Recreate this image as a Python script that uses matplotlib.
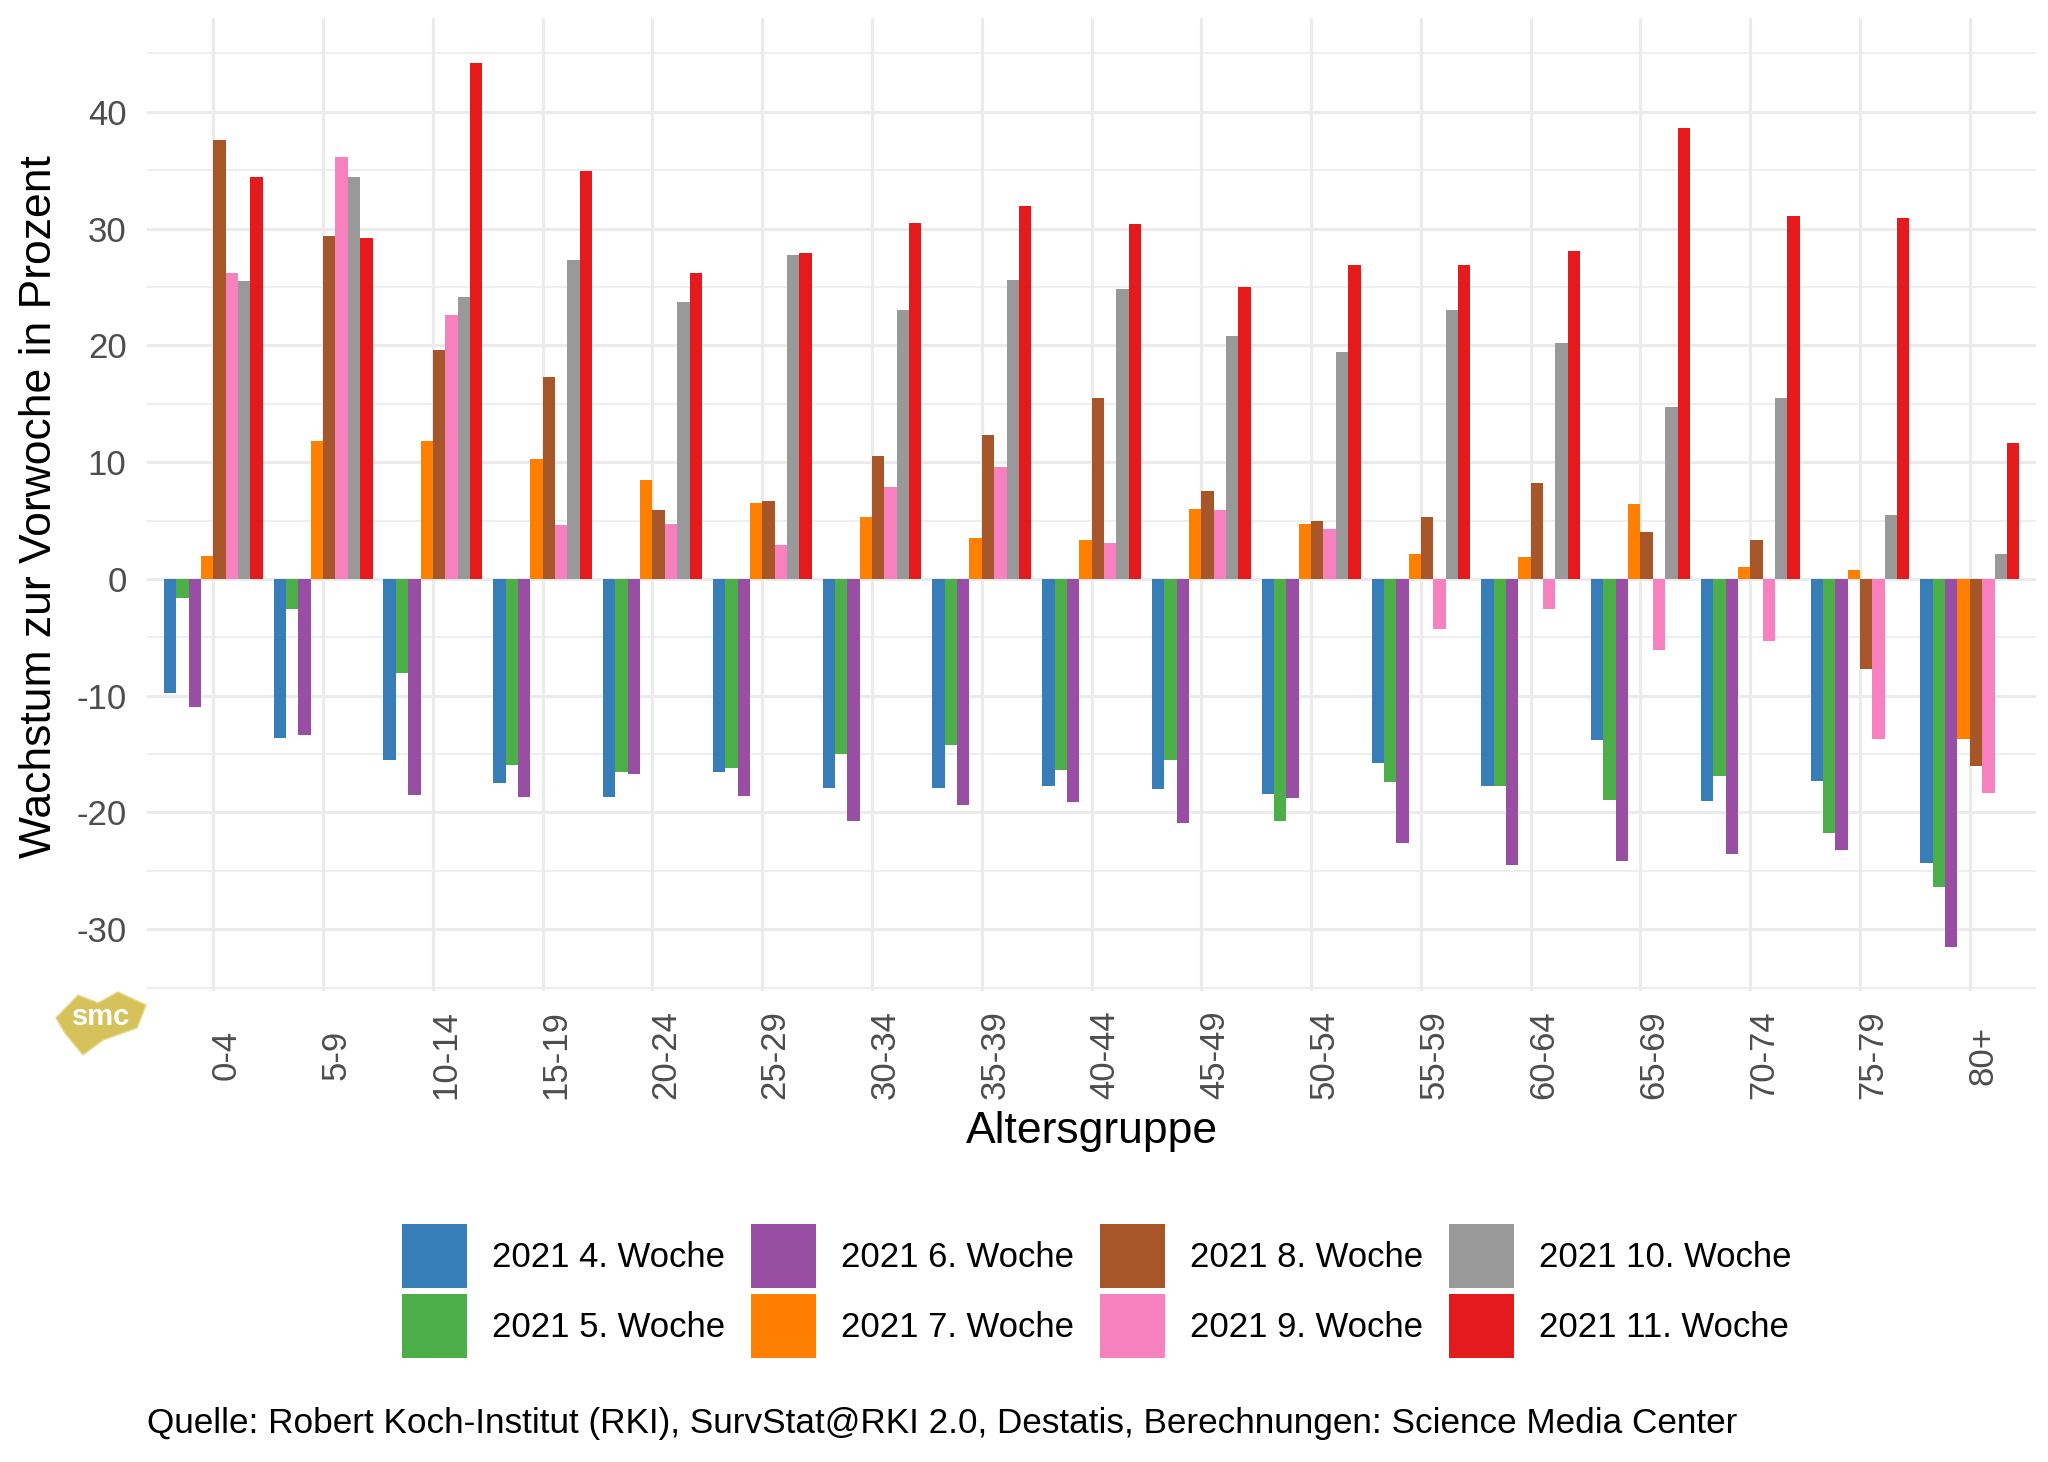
import numpy as np
import matplotlib
matplotlib.use('Agg')
import matplotlib.pyplot as plt
from matplotlib.patches import Polygon
from matplotlib.ticker import MultipleLocator
import matplotlib.transforms as mtransforms

plt.rcParams['font.family'] = ['Liberation Sans', 'DejaVu Sans']
plt.rcParams['axes.unicode_minus'] = False

altersgruppen = ['0-4', '5-9', '10-14', '15-19', '20-24', '25-29', '30-34', '35-39',
                 '40-44', '45-49', '50-54', '55-59', '60-64', '65-69', '70-74', '75-79', '80+']

wochen = ['2021 4. Woche', '2021 5. Woche', '2021 6. Woche', '2021 7. Woche',
          '2021 8. Woche', '2021 9. Woche', '2021 10. Woche', '2021 11. Woche']

farben = ['#377EB8', '#4DAF4A', '#984EA3', '#FF7F00', '#A65628', '#F781BF', '#999999', '#E41A1C']

w04 = [-9.8, -13.6, -15.5, -17.5, -18.7, -16.5, -17.9, -17.9, -17.7, -18.0, -18.4, -15.8, -17.7, -13.8, -19.0, -17.3, -24.3]
w05 = [-1.6, -2.6, -8.1, -15.9, -16.5, -16.2, -15.0, -14.2, -16.4, -15.5, -20.7, -17.4, -17.7, -18.9, -16.9, -21.8, -26.4]
w06 = [-11.0, -13.4, -18.5, -18.7, -16.7, -18.6, -20.7, -19.4, -19.1, -20.9, -18.8, -22.6, -24.5, -24.2, -23.6, -23.2, -31.5]
w07 = [2.0, 11.8, 11.8, 10.3, 8.5, 6.5, 5.3, 3.5, 3.3, 6.0, 4.7, 2.1, 1.9, 6.4, 1.0, 0.8, -13.7]
w08 = [37.6, 29.4, 19.6, 17.3, 5.9, 6.7, 10.5, 12.3, 15.5, 7.5, 5.0, 5.3, 8.2, 4.0, 3.3, -7.7, -16.0]
w09 = [26.2, 36.1, 22.6, 4.6, 4.7, 2.9, 7.9, 9.6, 3.1, 5.9, 4.3, -4.3, -2.6, -6.1, -5.3, -13.7, -18.3]
w10 = [25.5, 34.4, 24.1, 27.3, 23.7, 27.7, 23.0, 25.6, 24.8, 20.8, 19.4, 23.0, 20.2, 14.7, 15.5, 5.5, 2.1]
w11 = [34.4, 29.2, 44.2, 34.9, 26.2, 27.9, 30.5, 31.9, 30.4, 25.0, 26.9, 26.9, 28.1, 38.6, 31.1, 30.9, 11.6]

werte = [w04, w05, w06, w07, w08, w09, w10, w11]

fig = plt.figure(figsize=(20.48, 14.62), dpi=100)
ax = fig.add_axes([0.072, 0.3221, 0.922, 0.6653])

x = np.arange(len(altersgruppen))
breite = 0.9 / len(wochen)
for i, (name, farbe, y) in enumerate(zip(wochen, farben, werte)):
    ax.bar(x + (i - 3.5) * breite, y, breite, color=farbe, label=name, zorder=3)

ax.set_xlim(-0.6, len(altersgruppen) - 0.4)
ax.set_ylim(-35.3, 48.0)
ax.yaxis.set_minor_locator(MultipleLocator(5))
ax.set_yticks([-30, -20, -10, 0, 10, 20, 30, 40])
ax.set_xticks(x)
ax.set_xticklabels(altersgruppen, rotation=90, ha='center', va='center')

ax.grid(which='major', axis='both', color='#EBEBEB', lw=2.3, zorder=0)
ax.grid(which='minor', axis='y', color='#EBEBEB', lw=1.2, zorder=0)
for s in ax.spines.values():
    s.set_visible(False)
ax.tick_params(axis='both', which='both', length=0, labelsize=25, labelcolor='#4D4D4D')
ax.tick_params(axis='y', pad=15)
ax.tick_params(axis='x', pad=46)

verschiebung = mtransforms.ScaledTranslation(13 / 100, 0, fig.dpi_scale_trans)
for lbl in ax.get_xticklabels():
    lbl.set_transform(lbl.get_transform() + verschiebung)

fig.text(0.5 * (0.072 + 0.994), 0.226, 'Altersgruppe', fontsize=32, ha='center', va='center')
fig.text(0.0192, 0.6535, 'Wachstum zur Vorwoche in Prozent', fontsize=32,
         rotation=90, ha='center', va='center')

fig.legend(loc='center', bbox_to_anchor=(0.5355, 0.117), ncol=4, frameon=False,
           fontsize=25, handlelength=1.87, handleheight=2.46, handletextpad=0.72,
           columnspacing=0.75, labelspacing=0.17, borderpad=0)

fig.text(0.072, 0.026, 'Quelle: Robert Koch-Institut (RKI), SurvStat@RKI 2.0, Destatis, '
         'Berechnungen: Science Media Center', fontsize=25.3, ha='left', va='center')

# smc logo, grob angenaehert
logo = Polygon([[0.0273, 0.3037], [0.0381, 0.3194], [0.0479, 0.3140], [0.0576, 0.3215],
                [0.0713, 0.3126], [0.0669, 0.2969], [0.0503, 0.2886], [0.0405, 0.2784],
                [0.0317, 0.2934]],
               closed=True, transform=fig.transFigure, facecolor='#D6C25A',
               edgecolor='#E6D88E', lw=1, zorder=5)
fig.add_artist(logo)
fig.text(0.0493, 0.3044, 'smc', fontsize=21, color='white', fontweight='bold',
         ha='center', va='center', zorder=6)

fig.savefig('out.png', dpi=100)
